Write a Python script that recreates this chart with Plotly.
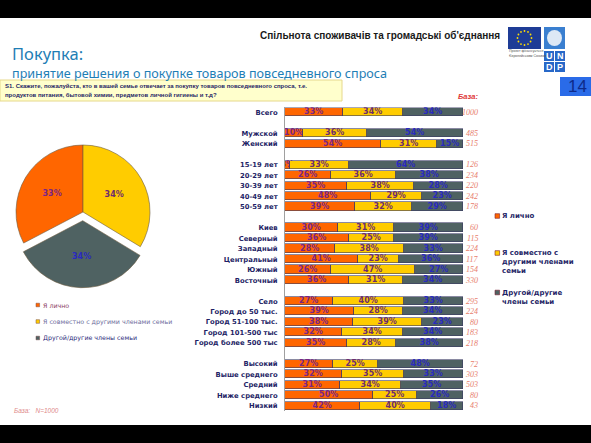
import math
import plotly.graph_objects as go

# ---------------- data ----------------
categories = ["Всего",
              "Мужской", "Женский",
              "15-19 лет", "20-29 лет", "30-39 лет", "40-49 лет", "50-59 лет",
              "Киев", "Северный", "Западный", "Центральный", "Южный", "Восточный",
              "Село", "Город до 50 тыс.", "Город 51-100 тыс.", "Город 101-500 тыс", "Город более 500 тыс",
              "Высокий", "Выше среднего", "Средний", "Ниже среднего", "Низкий"]
group_sizes = [1, 2, 5, 6, 5, 5]
personal = [33, 10, 54, 3, 26, 35, 48, 39, 30, 36, 28, 41, 26, 36, 27, 39, 38, 32, 35, 27, 32, 31, 50, 42]
joint = [34, 36, 31, 33, 36, 38, 29, 32, 31, 25, 38, 23, 47, 31, 40, 28, 39, 34, 28, 25, 35, 34, 25, 40]
other = [34, 54, 15, 64, 38, 28, 23, 29, 39, 39, 33, 36, 27, 34, 33, 34, 23, 34, 38, 48, 33, 35, 26, 18]
bases = [1000, 485, 515, 126, 234, 220, 242, 178, 60, 115, 224, 117, 154, 330,
         295, 224, 80, 183, 218, 72, 303, 503, 80, 43]
series_names = ["Я лично", "Я совместно с другими членами семьи", "Другой/другие члены семьи"]
legend_labels = ["Я лично", "Я совместно с<br>другими членами<br>семьи", "Другой/другие<br>члены семьи"]
pie_values = [33, 34, 34]
total_base = 1000

# ---------------- styling ----------------
W, H = 591, 443
colors = ["#FF6600", "#FFCC00", "#4F6262"]
text_colors = ["#7A2585", "#6E2C6E", "#2A2ABF"]
navy = "#1F1F66"
FONT = "DejaVu Sans"


def px(x, y):
    return x / W, 1 - y / H


# row positions: one blank row between groups
positions = []
pos = 0
for g in group_sizes:
    for _ in range(g):
        positions.append(pos)
        pos += 1
    pos += 1
n_rows = positions[-1] + 1

row0_px, pitch_px = 112.5, 10.48
top_px = row0_px - pitch_px / 2
bot_px = row0_px + (n_rows - 0.5) * pitch_px
ydom = [1 - bot_px / H, 1 - top_px / H]
xdom = [285 / W, 463.3 / W]

fig = go.Figure()

series = [personal, joint, other]
for name, vals, c, tc in zip(series_names, series, colors, text_colors):
    fig.add_trace(go.Bar(
        y=positions, x=vals, orientation="h", name=name,
        marker=dict(color=c, line=dict(color="#3C3C64", width=0.6)),
        text=[f"{v}%" for v in vals], textposition="inside", insidetextanchor="middle",
        textangle=0, constraintext="none",
        textfont=dict(family=FONT, size=8, color=tc, weight="bold"),
        width=0.78, showlegend=False, hoverinfo="skip",
    ))

# pie
pull = 0.13
r_px = 67
cx, cy = 83, 212
half = r_px * (1 + pull)
fig.add_trace(go.Pie(
    values=pie_values, labels=series_names, sort=False, direction="clockwise",
    rotation=-pie_values[0] / sum(pie_values) * 360,
    pull=[0, 0, pull],
    marker=dict(colors=colors, line=dict(color="#6B5A40", width=0.6)),
    texttemplate="%{value}%", textposition="inside",
    textfont=dict(family=FONT, size=8, color=text_colors, weight="bold"),
    domain=dict(x=[(cx - half) / W, (cx + half) / W], y=[1 - (cy + half) / H, 1 - (cy - half) / H]),
    showlegend=False, hoverinfo="skip",
))

shapes = []
annotations = []


def rect(x0, y0, x1, y1, fill, line=None, lw=0):
    a, b = px(x0, y0)
    c, d = px(x1, y1)
    shapes.append(dict(type="rect", xref="paper", yref="paper", x0=a, y0=d, x1=c, y1=b,
                       fillcolor=fill, line=dict(color=line or fill, width=lw), layer="below"))


def text(x, y, s, size, color, anchor="left", family=FONT, bold=False, italic=False, yanchor="middle"):
    a, b = px(x, y)
    annotations.append(dict(xref="paper", yref="paper", x=a, y=b, text=s, showarrow=False,
                            xanchor=anchor, yanchor=yanchor, align=anchor if anchor != "center" else "center",
                            borderpad=0,
                            font=dict(family=family, size=size, color=color,
                                      weight="bold" if bold else "normal",
                                      style="italic" if italic else "normal")))


# black bands
rect(0, 0, W, 18, "black")
rect(0, 425, W, H, "black")

# header
text(501, 35, "Спільнота споживачів та громадські об'єднання", 10, "#1A1A1A", anchor="right",
     family="Liberation Sans", bold=True)
text(11, 53.5, "Покупка:", 16.5, "#1E7EB5", family="Noto Sans")
text(11, 73, "принятие решения о покупке товаров повседневного спроса", 12.6, "#1E7EB5", family="Noto Sans")

# logos
rect(508, 27, 541, 49, "#1E3C96")
for k in range(12):
    ang = 2 * math.pi * k / 12
    sx, sy = 524.5 + 7 * math.cos(ang), 38 + 7 * math.sin(ang)
    a, b = px(sx - 0.9, sy - 0.9)
    c, d = px(sx + 0.9, sy + 0.9)
    shapes.append(dict(type="circle", xref="paper", yref="paper", x0=a, y0=d, x1=c, y1=b,
                       fillcolor="#FFDD00", line=dict(width=0)))
text(508, 54, "Проект фінансується<br>Європейським Союзом", 3.5, "#555555", family="Liberation Sans")
rect(544, 27, 565, 49, "#3A7FD0")
a, b = px(547, 30)
c, d = px(562, 46)
shapes.append(dict(type="circle", xref="paper", yref="paper", x0=a, y0=d, x1=c, y1=b,
                   fillcolor="#DDE8F5", line=dict(width=0)))
for (x0, y0, ch) in [(544, 51, "U"), (555, 51, "N"), (544, 62, "D"), (555, 62, "P")]:
    rect(x0, y0, x0 + 10, y0 + 10, "#2868C8")
    text(x0 + 5, y0 + 5.3, ch, 9, "white", anchor="center", family="Liberation Sans", bold=True)

# page number
rect(560, 77, W, 96, "#2A6BE8")
text(577, 86.5, "14", 17, "#0E2A8A", anchor="center", family="Liberation Sans")

# question box
rect(0, 80, 342, 101, "#FFFFCC", "#E6D88C", 1)
text(4, 86, "S1. Скажите, пожалуйста, кто в вашей семье отвечает за покупку товаров повседневного спроса, т.е.",
     6, navy, family="Liberation Sans", bold=True)
text(4, 95, "продуктов питания, бытовой химии, предметов личной гигиены и т.д?",
     6, navy, family="Liberation Sans", bold=True)

# base column
text(479, 97, "База:", 7.5, "#E03A3A", anchor="right", bold=True, italic=True, family="Liberation Sans")
for p, b_ in zip(positions, bases):
    annotations.append(dict(xref="paper", yref="y", x=480 / W, y=p, text=str(b_), showarrow=False,
                            xanchor="right", yanchor="middle",
                            font=dict(family="Liberation Serif", size=8, color="#E8806E", style="italic")))

# right legend: marker at first line of each label
leg_first_y = [216, 253, 292.5]
for lab, c, y in zip(legend_labels, colors, leg_first_y):
    rect(495, y - 2.3, 499.6, y + 2.3, c, "#7A2030", 0.6)
    text(501, y - 5, lab, 7, navy, bold=True, yanchor="top")

# pie legend
pie_leg_y = [305, 321.5, 338]
pie_leg_colors = ["#8B3A62", "#6B6B9B", "#2B2B7B"]
for lab, c, tc, y in zip(series_names, colors, pie_leg_colors, pie_leg_y):
    rect(36, y - 1.8, 39.6, y + 1.8, c, "#7A5050", 0.5)
    text(42, y, lab, 6.3, tc)

# base note
text(13, 410, "База:   N=" + str(total_base), 6.5, "#E08A8A", italic=True, family="Liberation Sans")

fig.update_layout(
    width=W, height=H, margin=dict(l=0, r=0, t=0, b=0),
    paper_bgcolor="white", plot_bgcolor="rgba(0,0,0,0)",
    barmode="stack", barnorm="percent", bargap=0,
    uniformtext=dict(minsize=8, mode="show"),
    shapes=shapes, annotations=annotations,
    xaxis=dict(domain=xdom, range=[0, 100], visible=False, fixedrange=True),
    yaxis=dict(domain=ydom, range=[n_rows - 0.5, -0.5], tickmode="array",
               tickvals=positions, ticktext=[f"<b>{c}</b>" for c in categories],
               tickfont=dict(family=FONT, size=6.8, color=navy),
               showline=True, linecolor="#A0A0A0", linewidth=1, showgrid=False,
               zeroline=False, ticks="", ticklabelstandoff=5, fixedrange=True),
    showlegend=False,
)

fig.write_html("out.html", config={"displayModeBar": False},
               post_script="document.body.style.margin='0';document.body.style.overflow='hidden';")
